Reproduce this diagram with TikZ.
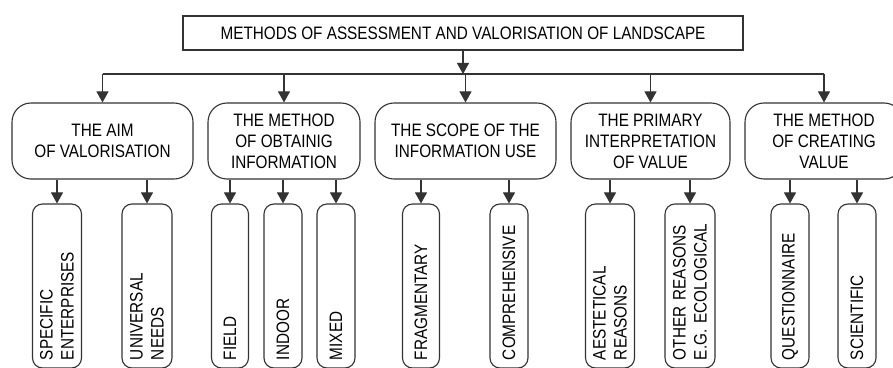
\documentclass[tikz,border=0pt]{standalone}
\usepackage{fontspec}
\setmainfont[FakeStretch=0.85]{Liberation Sans}
\usetikzlibrary{arrows.meta}
\definecolor{linegray}{HTML}{333333}

\begin{document}
\begin{tikzpicture}[x=1pt,y=1pt,
        box/.style={draw=linegray, line width=1.1pt, fill=white, align=center,
            font=\fontsize{18}{21}\selectfont, inner sep=0pt},
        topbox/.style={box, minimum width=560, minimum height=34},
        groupbox/.style={box, rounded corners=19pt, minimum height=76},
        leafbox/.style={box, rounded corners=10pt, rotate=90, minimum width=164,
            text width=148, align=left, inner xsep=8pt},
        arr/.style={draw=linegray, line width=1.1pt, -{Triangle[width=12pt,length=11pt]}}]
    \useasboundingbox (0,0) rectangle (893,367);
    % Define dimensions
    \def\busy{293}
    \def\groupy{226}
    \def\leafy{81}
    % Draw the title box
    \node[topbox] (top) at (463,334) {METHODS OF ASSESSMENT AND VALORISATION OF LANDSCAPE};
    % Draw the five groups
    \node[groupbox, minimum width=181] (aim) at (102.5,\groupy) {THE AIM\\OF VALORISATION};
    \node[groupbox, minimum width=152] (method) at (284,\groupy) {THE METHOD\\OF OBTAINIG\\INFORMATION};
    \node[groupbox, minimum width=181] (scope) at (465.5,\groupy) {THE SCOPE OF THE\\INFORMATION USE};
    \node[groupbox, minimum width=159] (interp) at (650.5,\groupy) {THE PRIMARY\\INTERPRETATION\\OF VALUE};
    \node[groupbox, minimum width=158] (creating) at (824,\groupy) {THE METHOD\\OF CREATING\\VALUE};
    % Bus from the title to the groups
    \coordinate (bus) at (0,\busy);
    \draw[arr] (top.south) -- (top.south |- bus);
    \draw[linegray, line width=1.1pt] (aim.north |- bus) -- (creating.north |- bus);
    \foreach \grp in {aim,method,scope,interp,creating}
        \draw[arr] (\grp.north |- bus) -- (\grp.north);
    % Draw the leaves below each group
    \foreach \name/\x/\w/\parent/\txt in {
            spec/57/49/aim/{SPECIFIC\\ENTERPRISES},
            univ/147/50/aim/{UNIVERSAL\\NEEDS},
            field/230/37/method/{FIELD},
            indoor/283/38/method/{INDOOR},
            mixed/336/38/method/{MIXED},
            frag/421/37/scope/{FRAGMENTARY},
            comp/509/38/scope/{COMPREHENSIVE},
            aest/610/49/interp/{AESTETICAL\\REASONS},
            other/690/50/interp/{OTHER REASONS\\E.G. ECOLOGICAL},
            quest/790/38/creating/{QUESTIONNAIRE},
            scien/857/38/creating/{SCIENTIFIC}} {
        \node[leafbox, minimum height=\w] (\name) at (\x,\leafy) {\txt};
        \draw[arr] (\parent.south -| \name) -- (\name.east);
    }
\end{tikzpicture}
\end{document}
